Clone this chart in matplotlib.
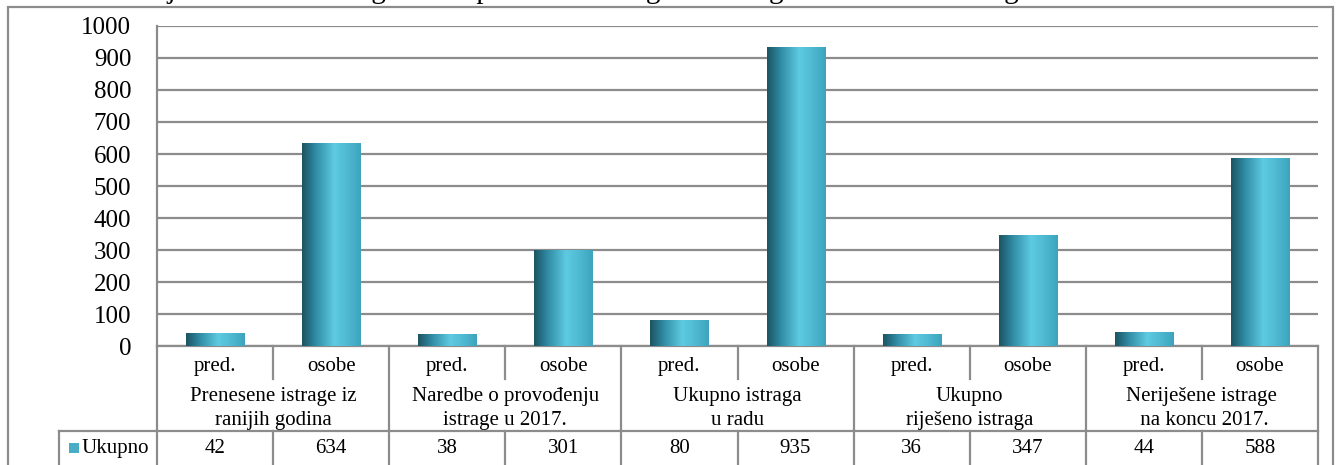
import matplotlib
matplotlib.use('Agg')
import matplotlib.pyplot as plt
import numpy as np
from matplotlib.colors import LinearSegmentedColormap
from matplotlib.transforms import blended_transform_factory
from matplotlib.patches import Rectangle

plt.rcParams['font.family'] = ['Liberation Serif', 'DejaVu Serif']

# data
sub_labels = ['pred.', 'osobe'] * 5
group_labels = [('Prenesene istrage iz', 'ranijih godina'),
                ('Naredbe o provođenju', 'istrage u 2017.'),
                ('Ukupno istraga', 'u radu'),
                ('Ukupno', 'riješeno istraga'),
                ('Neriješene istrage', ' na koncu 2017.')]
values = [42, 634, 38, 301, 80, 935, 36, 347, 44, 588]
series_name = 'Ukupno'
title = 'Grafikon broj 3: Podaci o istragama na predmetima organiziranog kriminala u 2017. godini'

W, H = 1341, 465
fig = plt.figure(figsize=(W / 100, H / 100), dpi=100)

def fy(py):
    # pixel row from top -> figure fraction
    return 1 - py / H

def fx(px):
    return px / W

ax = fig.add_axes([fx(157), fy(346), fx(1318) - fx(157), fy(26) - fy(346)])

grid_col = '#8c8c8c'
xs = np.arange(len(values))
bars = ax.bar(xs, values, width=0.5, color='#4bacc6', edgecolor='none', zorder=3)

# cylinder-like gradient on each bar
cmap = LinearSegmentedColormap.from_list('cyl', [(0, '#1c5563'), (0.22, '#2f8aa2'),
                                                 (0.55, '#5ecbe2'), (0.8, '#4db7d0'),
                                                 (1, '#3ea4bd')])
grad = np.linspace(0, 1, 64).reshape(1, -1)
for b in bars:
    x0, w, h = b.get_x(), b.get_width(), b.get_height()
    im = ax.imshow(grad, cmap=cmap, aspect='auto', extent=(x0, x0 + w, 0, h),
                   zorder=4, interpolation='bilinear')
    im.set_clip_path(b)

ax.set_xlim(-0.5, len(values) - 0.5)
ax.set_ylim(0, 1000)
ax.set_yticks(np.arange(0, 1001, 100))
ax.set_xticks([])
ax.tick_params(axis='y', length=0, pad=18.5, labelsize=18)
ax.yaxis.grid(True, color=grid_col, linewidth=1.6, zorder=0)
ax.set_axisbelow(True)
for s in ['top', 'right', 'bottom']:
    ax.spines[s].set_visible(False)
ax.spines['left'].set_color(grid_col)
ax.spines['left'].set_linewidth(1.6)

# data table under the axis
tr = blended_transform_factory(ax.transData, fig.transFigure)
lkw = dict(color=grid_col, linewidth=1.6, clip_on=False)
y_top, y_sub, y_mid, y_bot = fy(346), fy(379), fy(431), fy(470)
n = len(values)
ax.plot([-0.5, n - 0.5], [y_top, y_top], transform=tr, **lkw)
ax.plot([fx(59), fx(1318)], [y_mid, y_mid], transform=fig.transFigure, **lkw)
ax.plot([fx(59), fx(59)], [y_mid, y_bot], transform=fig.transFigure, **lkw)
for i in range(n + 1):
    xb = i - 0.5
    if i % 2 == 0:
        ax.plot([xb, xb], [y_top, y_bot], transform=tr, **lkw)
    else:
        ax.plot([xb, xb], [y_top, y_sub], transform=tr, **lkw)
        ax.plot([xb, xb], [y_mid, y_bot], transform=tr, **lkw)

tkw = dict(transform=tr, ha='center', va='center', fontsize=15, clip_on=False)
for i, lab in enumerate(sub_labels):
    ax.text(i, fy(366), lab, **tkw)
for g, (l1, l2) in enumerate(group_labels):
    ax.text(2 * g + 0.5, fy(396), l1, **tkw)
    ax.text(2 * g + 0.5, fy(420), l2, **tkw)
for i, v in enumerate(values):
    ax.text(i, fy(448), str(v), **tkw)

fig.patches.append(Rectangle((fx(69), fy(453)), fx(10), fy(443) - fy(453),
                             transform=fig.transFigure, facecolor='#4bacc6',
                             edgecolor='none'))
fig.text(fx(82), fy(448), series_name, ha='left', va='center', fontsize=15)

# outer chart frame
fig.patches.append(Rectangle((fx(8), fy(480)), fx(1333) - fx(8), fy(7) - fy(480),
                             transform=fig.transFigure, facecolor='none',
                             edgecolor=grid_col, linewidth=1.6))

# title, cut off by the top edge as in the source
fig.text(fx(16), fy(-2), title, ha='left', va='baseline', fontsize=21)

fig.savefig('out.png', dpi=100)
